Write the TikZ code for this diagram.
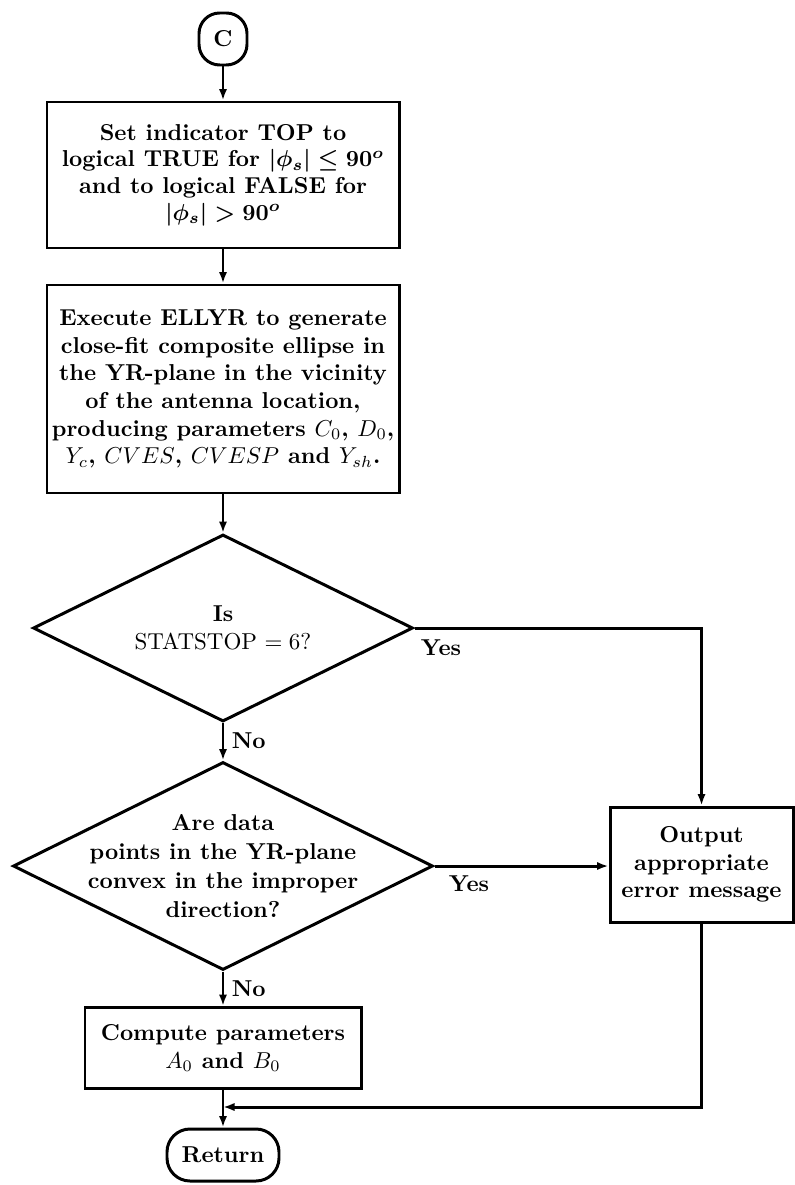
\documentclass[tikz,border=0pt]{standalone}
\usepackage{amsmath}
\usetikzlibrary{shapes.geometric,arrows.meta,calc}
\newcommand{\pxu}{0.4348pt}
\begin{document}
\begin{tikzpicture}[x=0.4348pt,y=-0.4348pt,
  line width=1.3pt,
  txt/.style={font=\bfseries\fontsize{10}{12}\selectfont},
  box/.style={txt,draw,rectangle,align=center,inner sep=0pt},
  decision/.style={draw,diamond,inner sep=0pt},
  term/.style={txt,draw,rectangle,rounded corners=9pt,align=center,inner sep=0pt},
  lbl/.style={txt,inner sep=1pt},
  arr/.style={-{Latex[length=5pt,width=3.6pt]}}]
\useasboundingbox (0,0) rectangle (795,1185);

\node[term,minimum width=48*\pxu,minimum height=52*\pxu] (c) at (223,39) {C};

\node[box,minimum width=352*\pxu,minimum height=146*\pxu,
      font=\bfseries\fontsize{10}{11.6}\selectfont] (b1) at (223,175)
 {Set indicator TOP to\\
  logical TRUE for {\boldmath$|\phi_s|\le 90^o$}\\
  and to logical FALSE for\\
  {\boldmath$|\phi_s| > 90^o$}};

\node[box,minimum width=352*\pxu,minimum height=208*\pxu] (b2) at (223,389)
 {Execute ELLYR to generate\\
  close-fit composite ellipse in\\
  the YR-plane in the vicinity\\
  of the antenna location,\\
  producing parameters $C_0$, $D_0$,\\
  $Y_c$, $CVES$, $CVESP$ and $Y_{sh}$.};

\node[decision,minimum width=380*\pxu,minimum height=187*\pxu] (d1) at (223,628) {};
\node[txt,align=center] (d1t) at (d1.center) {Is\\ \mdseries STATSTOP $= 6$?};

\node[decision,minimum width=420*\pxu,minimum height=208*\pxu] (d2) at (223,866) {};
\node[txt,align=center,font=\bfseries\fontsize{10}{12.6}\selectfont] (d2t) at (d2.center)
 {Are data\\ points in the YR-plane\\ convex in the improper\\ direction?};

\node[box,minimum width=276*\pxu,minimum height=81*\pxu] (b3) at (223,1048)
 {Compute parameters\\ $A_0$ and $B_0$};

\node[term,minimum width=112*\pxu,minimum height=52*\pxu,rounded corners=10pt] (ret) at (223,1155) {Return};

\node[box,minimum width=183*\pxu,minimum height=115*\pxu] (out) at (701.5,864.5)
 {Output\\ appropriate\\ error message};

\coordinate (j) at (223,1107);

\draw[arr] (c) -- (b1);
\draw[arr] (b1) -- (b2);
\draw[arr] (b2) -- (d1.north);
\draw[arr] (d1.south) -- (d2.north);
\draw[arr] (d2.south) -- (b3);
\draw[arr] (b3) -- (ret);
\draw[arr] (d1.east) -| (out.north);
\draw[arr] (d2.east) -- (d2.east -| out.west);
\draw[arr] (out.south) |- (j);

\node[lbl,anchor=west] (y1) at (417,648) {Yes};
\node[lbl,anchor=west] (y2) at (445,884) {Yes};
\node[lbl,anchor=west] (n1) at (228,741) {No};
\node[lbl,anchor=west] (n2) at (228,989) {No};
\end{tikzpicture}
\end{document}
